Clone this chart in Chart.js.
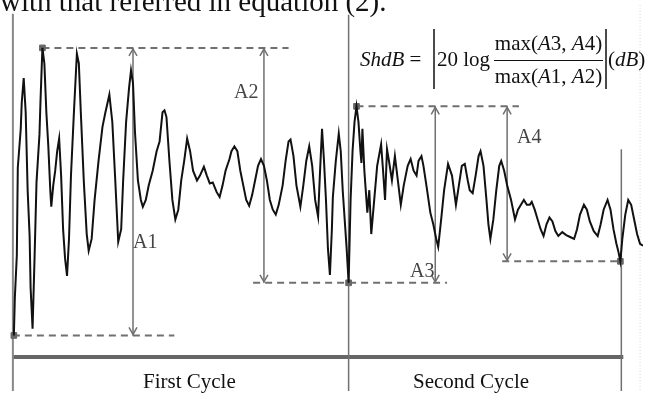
<!DOCTYPE html>
<html>
<head>
<meta charset="utf-8">
<script src="https://cdn.jsdelivr.net/npm/chart.js@4"></script>
<style>
  html, body { margin: 0; padding: 0; background: #fff; }
  canvas { display: block; }
</style>
</head>
<body>
<canvas id="chart" width="648" height="396"></canvas>
<script>
// Sampled waveform: time (samples) and amplitude (arbitrary units)
const waveTime = [
  9, 10, 12, 13, 16, 17, 19, 21, 23, 25,
  26, 28, 30, 32, 35, 36, 38, 40, 42, 44,
  46, 47, 49, 51, 53, 55, 57, 59, 61, 63,
  65, 67, 70, 73, 75, 77, 80, 83, 85, 88,
  91, 95, 99, 102, 106, 109, 112, 115, 118, 120,
  123, 126, 128, 130, 132, 135, 138, 140, 143, 146,
  150, 154, 157, 160, 162, 164, 167, 170, 173, 176,
  179, 182, 185, 188, 191, 195, 198, 202, 205, 208,
  211, 215, 218, 221, 224, 228, 230, 233, 236, 239,
  242, 245, 248, 251, 254, 257, 260, 263, 266, 269,
  272, 275, 278, 282, 285, 288, 290, 293, 296, 300,
  303, 306, 309, 312, 315, 318, 320, 322, 324, 326,
  328, 330, 332, 333, 336, 339, 341, 343, 345, 347,
  349, 351, 353, 355, 357, 359, 361, 362, 363, 365,
  368, 370, 372, 375, 378, 382, 384, 386, 388, 390,
  393, 396, 399, 402, 405, 409, 412, 415, 418, 420,
  423, 425, 428, 432, 435, 438, 440, 443, 446, 450,
  454, 458, 461, 464, 467, 470, 472, 475, 478, 481,
  483, 486, 489, 491, 493, 496, 499, 502, 504, 507,
  510, 514, 518, 521, 524, 527, 530, 533, 535, 538,
  541, 544, 547, 550, 553, 556, 559, 562, 566, 570,
  574, 578, 581, 584, 588, 591, 594, 598, 602, 605,
  608, 612, 615, 618, 621, 623, 625, 627, 630, 633,
  636, 639, 642, 645, 648
];
const waveAmp = [
  -159, -120, -77, 13, 53, 80, 105, 70, -10, -57,
  -110, -152, -80, -2, 47, 80, 136, 120, 70, 35,
  -10, -27, -5, 10, 30, 43, 5, -50, -80, -98,
  -60, 5, 70, 130, 120, 70, 0, -55, -72, -60,
  -20, 20, 55, 70, 88, 60, 0, -63, -50, 0,
  60, 95, 113, 100, 50, 0, -20, -27, -20, -5,
  10, 30, 40, 70, 72, 65, 20, -20, -40, -30,
  0, 20, 43, 30, 10, 0, 5, 14, 5, -3,
  -2, -12, -17, -5, 10, 22, 30, 35, 30, 10,
  -5, -20, -26, -15, 0, 15, 22, 15, 0, -20,
  -30, -35, -25, -5, 20, 40, 42, 25, -5, -27,
  -5, 20, 35, 15, -20, -37, 10, 53, 20, -20,
  -70, -97, -50, -17, 20, 48, 30, -10, -40, -70,
  -105, -20, 30, 60, 76, 60, 30, 18, 53, 10,
  -33, -10, -55, -20, 15, 37, 10, -20, 32, 20,
  0, 25, 0, -25, -5, 15, 22, 10, 5, 20,
  25, 15, -5, -33, -45, -60, -68, -40, -10, 17,
  5, -25, -5, 15, 17, 0, -10, -13, 5, 25,
  30, 15, -20, -45, -60, -40, -10, 15, 20, 10,
  -5, -20, -40, -30, -25, -20, -25, -25, -22, -30,
  -40, -50, -57, -45, -38, -42, -52, -57, -53, -56,
  -58, -60, -50, -35, -25, -30, -42, -52, -57, -45,
  -30, -20, -30, -50, -65, -73, -83, -60, -35, -20,
  -25, -40, -55, -65, -67
];

// Cycle boundaries (samples)
const cycleStart = 8, cycleSplit = 349, cycleEnd = 626;

// Extreme levels picked for A1..A4
const topA12 = 136, botA1 = -159, botA23 = -105, topA34 = 76, botA4 = -83;

// Arrow positions (time) and spans
const arrowNames = ['A1', 'A2', 'A3', 'A4'];
const arrowTime = [130, 263, 437, 510];
const arrowTop = [topA12, topA12, topA34, topA34];
const arrowBottom = [botA1, botA23, botA23, botA4];

// Dashed guide lines: level, start, end
const guideLevel = [topA12, botA1, botA23, topA34, botA4];
const guideFrom = [38, 8, 252, 357, 505];
const guideTo = [288, 172, 449, 522, 625];

// Picked extreme points
const pickTime = [38, 9, 349, 357, 625];
const pickAmp = [topA12, botA1, botA23, topA34, botA4];

// Frame
const yMin = -216, yMax = 180;
const barLevel = -181;

const seg = (x0, y0, x1, y1) => [{ x: x0, y: y0 }, { x: x1, y: y1 }];
const GRAY = '#707070';
const SERIF = "'Liberation Serif', 'Times New Roman', serif";

const datasets = [];

// Waveform first, so it is drawn on top
datasets.push({
    data: waveTime.map((t, i) => ({ x: t, y: waveAmp[i] })),
    borderColor: '#111',
    borderWidth: 2,
    pointRadius: 0,
    tension: 0
});

// Picked points (square markers)
datasets.push({
    data: pickTime.map((t, i) => ({ x: t, y: pickAmp[i] })),
    showLine: false,
    pointStyle: 'rect',
    pointRadius: 4,
    backgroundColor: '#666',
    borderColor: '#666'
});

// Dashed guides
guideLevel.forEach((lv, i) => {
    datasets.push({
        data: seg(guideFrom[i], lv, guideTo[i], lv),
        borderColor: GRAY,
        borderWidth: 2,
        borderDash: [7, 5],
        pointRadius: 0
    });
});

// Arrow shafts
arrowTime.forEach((t, i) => {
    datasets.push({
        data: seg(t, arrowTop[i], t, arrowBottom[i]),
        borderColor: GRAY,
        borderWidth: 1.5,
        pointRadius: 0
    });
});

// Frame lines
datasets.push({ data: seg(cycleStart, 171, cycleStart, yMin), borderColor: '#888', borderWidth: 2, pointRadius: 0 });
datasets.push({ data: seg(cycleSplit, 170, cycleSplit, yMin), borderColor: GRAY, borderWidth: 1.5, pointRadius: 0 });
datasets.push({ data: seg(cycleEnd, 32, cycleEnd, yMin), borderColor: GRAY, borderWidth: 1.5, pointRadius: 0 });
datasets.push({ data: seg(cycleStart, barLevel, cycleEnd + 2, barLevel), borderColor: '#666', borderWidth: 4, pointRadius: 0 });
datasets.push({ data: seg(645, yMax, 645, yMin), borderColor: '#d8d8d8', borderWidth: 1, borderDash: [1, 2], pointRadius: 0 });

// Arrowheads and text
const annotationPlugin = {
    id: 'annotations',
    afterDatasetsDraw(chart) {
        const { ctx, scales: { x, y } } = chart;
        ctx.save();
        ctx.strokeStyle = GRAY;
        ctx.lineWidth = 1.5;
        arrowTime.forEach((t, i) => {
            const px = x.getPixelForValue(t);
            const pTop = y.getPixelForValue(arrowTop[i]);
            const pBot = y.getPixelForValue(arrowBottom[i]);
            ctx.beginPath();
            ctx.moveTo(px - 4, pTop + 8); ctx.lineTo(px, pTop + 1); ctx.lineTo(px + 4, pTop + 8);
            ctx.moveTo(px - 4, pBot - 8); ctx.lineTo(px, pBot - 1); ctx.lineTo(px + 4, pBot - 8);
            ctx.stroke();
        });

        // Arrow labels
        ctx.fillStyle = '#444';
        ctx.font = '20px ' + SERIF;
        ctx.textBaseline = 'alphabetic';
        const labelPos = [[133, 248], [234, 98], [410, 277], [517, 143]];
        arrowNames.forEach((n, i) => ctx.fillText(n, labelPos[i][0], labelPos[i][1]));

        // Cycle names
        ctx.fillStyle = '#111';
        ctx.font = '21px ' + SERIF;
        ctx.fillText('First Cycle', 143, 388);
        ctx.fillText('Second Cycle', 413, 388);

        // Cropped sentence at the top
        ctx.font = '29px ' + SERIF;
        ctx.fillText('with that referred in equation (2).', 0, 11);

        // Formula
        const up = '21px ' + SERIF, it = 'italic 21px ' + SERIF;
        const runs = (parts, x0, base) => {
            let cx = x0;
            parts.forEach(([txt, f]) => {
                ctx.font = f;
                ctx.fillText(txt, cx, base);
                cx += ctx.measureText(txt).width;
            });
            return cx;
        };
        const width = (parts) => parts.reduce((s, [txt, f]) => { ctx.font = f; return s + ctx.measureText(txt).width; }, 0);
        runs([['ShdB', it], [' =', up]], 360, 66);
        ctx.strokeStyle = '#111';
        ctx.lineWidth = 1.5;
        ctx.beginPath();
        ctx.moveTo(434, 29); ctx.lineTo(434, 89);
        ctx.moveTo(606, 29); ctx.lineTo(606, 89);
        ctx.stroke();
        runs([['20 log', up]], 437, 66);
        const num = [['max(', up], ['A', it], ['3, ', up], ['A', it], ['4)', up]];
        const den = [['max(', up], ['A', it], ['1, ', up], ['A', it], ['2)', up]];
        const fx0 = 494, fx1 = 603;
        runs(num, (fx0 + fx1 - width(num)) / 2, 50);
        runs(den, (fx0 + fx1 - width(den)) / 2, 83);
        ctx.lineWidth = 1;
        ctx.beginPath();
        ctx.moveTo(fx0, 60.5); ctx.lineTo(fx1, 60.5);
        ctx.stroke();
        runs([['(', up], ['dB', it], [')', up]], 608, 66);
        ctx.restore();
    }
};

new Chart(document.getElementById('chart'), {
    type: 'scatter',
    data: { datasets: datasets.map(d => ({ showLine: true, fill: false, ...d })) },
    options: {
        responsive: false,
        animation: false,
        events: [],
        layout: { padding: 0 },
        scales: {
            x: { type: 'linear', min: 0, max: 648, display: false },
            y: { type: 'linear', min: yMin, max: yMax, display: false }
        },
        plugins: { legend: { display: false }, tooltip: { enabled: false } }
    },
    plugins: [annotationPlugin]
});
</script>
</body>
</html>
